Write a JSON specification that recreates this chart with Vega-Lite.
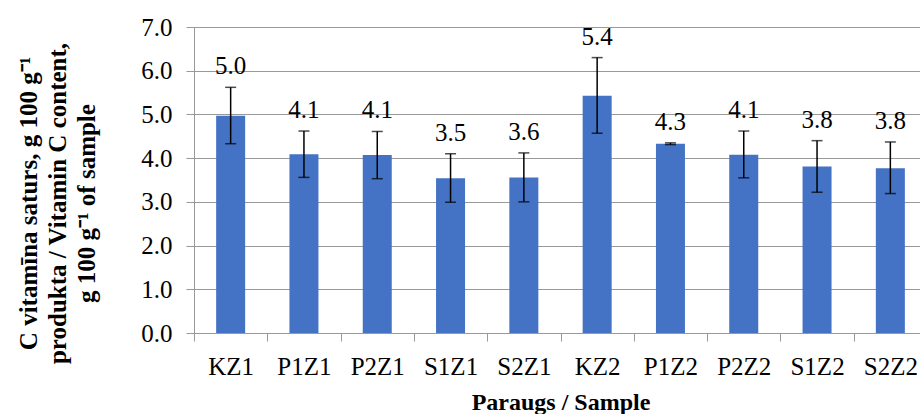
{
  "$schema": "https://vega.github.io/schema/vega-lite/v6.json",
  "width": 733,
  "height": 306,
  "autosize": "none",
  "padding": {"left": 194, "top": 27, "right": 0, "bottom": 81},
  "background": "white",
  "config": {
    "view": {"stroke": null},
    "font": "Liberation Serif, Times New Roman, serif",
    "text": {"font": "Liberation Serif, Times New Roman, serif"},
    "axis": {"labelFont": "Liberation Serif, Times New Roman, serif", "titleFont": "Liberation Serif, Times New Roman, serif", "labelColor": "black", "titleColor": "black"}
  },
  "data": {
    "values": [
      {"sample": "KZ1", "value": 4.97, "lo": 4.33, "hi": 5.62},
      {"sample": "P1Z1", "value": 4.09, "lo": 3.56, "hi": 4.62},
      {"sample": "P2Z1", "value": 4.07, "lo": 3.53, "hi": 4.61},
      {"sample": "S1Z1", "value": 3.54, "lo": 2.99, "hi": 4.10},
      {"sample": "S2Z1", "value": 3.56, "lo": 3.00, "hi": 4.12},
      {"sample": "KZ2", "value": 5.43, "lo": 4.57, "hi": 6.30},
      {"sample": "P1Z2", "value": 4.33, "lo": 4.31, "hi": 4.35},
      {"sample": "P2Z2", "value": 4.08, "lo": 3.55, "hi": 4.62},
      {"sample": "S1Z2", "value": 3.81, "lo": 3.22, "hi": 4.40},
      {"sample": "S2Z2", "value": 3.77, "lo": 3.19, "hi": 4.37}
    ]
  },
  "encoding": {
    "x": {
      "field": "sample", "type": "nominal", "sort": null,
      "scale": {"paddingInner": 0, "paddingOuter": 0},
      "axis": {
        "title": "Paraugs / Sample",
        "titleFontSize": 24, "titleFontWeight": "bold", "titlePadding": 11,
        "labelFontSize": 25, "labelAngle": 0, "labelPadding": 13,
        "tickBand": "extent", "tickSize": 8, "tickColor": "#999999",
        "domainColor": "#999999", "grid": false
      }
    }
  },
  "layer": [
    {
      "mark": {"type": "bar", "width": 29, "color": "#4472C4"},
      "encoding": {
        "y": {
          "field": "value", "type": "quantitative",
          "scale": {"domain": [0, 7], "nice": false},
          "axis": {
            "title": ["C vitamīna saturs, g 100 g⁻¹", "produkta / Vitamin C content,", "g 100 g⁻¹ of sample"],
            "titleFontSize": 25, "titleFontWeight": "bold", "titleLineHeight": 29,
            "titleAngle": -90, "titleAlign": "center", "titleBaseline": "middle",
            "titleX": -166, "titleY": 176,
            "values": [0, 1, 2, 3, 4, 5, 6, 7], "format": ".1f",
            "labelFontSize": 25, "labelPadding": 14,
            "tickSize": 8, "tickColor": "#999999",
            "domainColor": "#999999",
            "grid": true, "gridColor": "#999999", "gridWidth": 1
          }
        }
      }
    },
    {
      "mark": {"type": "rule", "color": "black", "strokeWidth": 1.5},
      "encoding": {
        "y": {"field": "lo", "type": "quantitative"},
        "y2": {"field": "hi"}
      }
    },
    {
      "mark": {"type": "tick", "color": "black", "size": 11, "thickness": 1.5},
      "encoding": {"y": {"field": "lo", "type": "quantitative"}}
    },
    {
      "mark": {"type": "tick", "color": "black", "size": 11, "thickness": 1.5},
      "encoding": {"y": {"field": "hi", "type": "quantitative"}}
    },
    {
      "mark": {"type": "text", "fontSize": 25, "baseline": "alphabetic", "dy": -13, "color": "black", "font": "Liberation Serif, Times New Roman, serif"},
      "encoding": {
        "y": {"field": "hi", "type": "quantitative"},
        "text": {"field": "value", "type": "quantitative", "format": ".1f"}
      }
    }
  ]
}
